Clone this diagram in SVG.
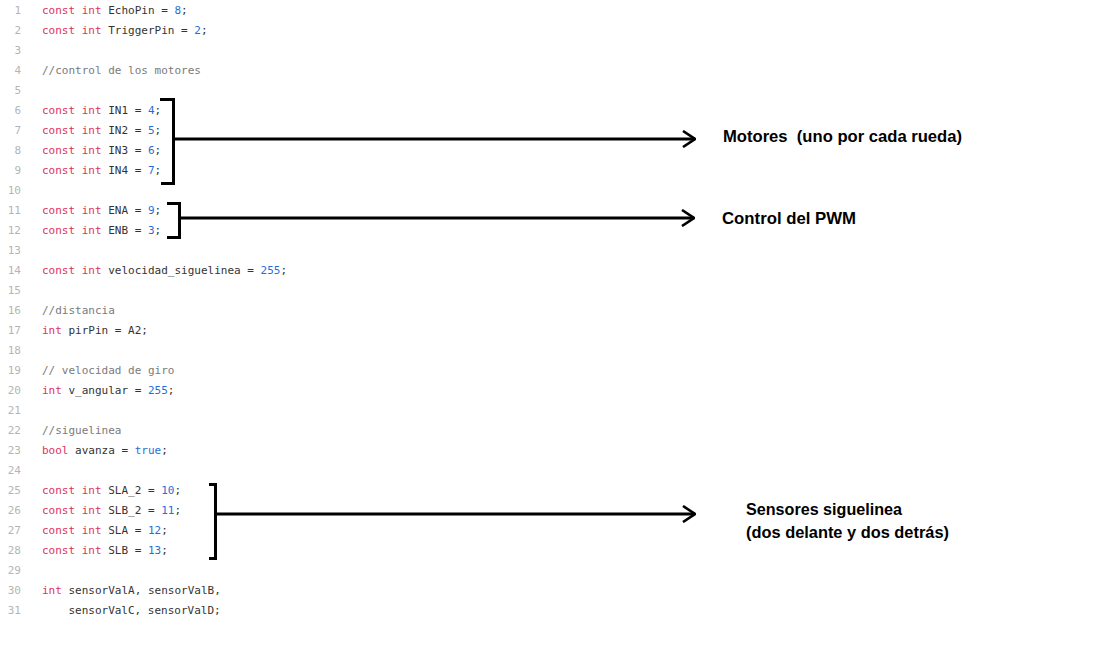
<svg xmlns="http://www.w3.org/2000/svg" width="1096" height="652" viewBox="0 0 1096 652">
<style>
.ln{font-family:"DejaVu Sans Mono","Liberation Mono",monospace;font-size:11px;fill:#b5b5b5;text-anchor:end}
.cd{font-family:"DejaVu Sans Mono","Liberation Mono",monospace;font-size:11px;fill:#333;white-space:pre}
.k{fill:#e0325c}
.n{fill:#1f6fd6}
.c{fill:#7a7a7a}
.lbl{font-family:"Liberation Sans",Arial,sans-serif;font-weight:bold;font-size:17px;fill:#000;white-space:pre}
.br{fill:none;stroke:#000;stroke-width:3}
.ar{fill:none;stroke:#000;stroke-width:3}
</style>
<defs>
<marker id="head" viewBox="0 0 14 18" refX="13" refY="9" markerWidth="14" markerHeight="18" markerUnits="userSpaceOnUse" orient="auto">
<path d="M1,1 L13,9 L1,17" fill="none" stroke="#000" stroke-width="2.6"/>
</marker>
</defs>
<rect width="1096" height="652" fill="#fff"/>
<g id="code">
<g id="linenumbers">
<text class="ln" x="21" y="14">1</text>
<text class="ln" x="21" y="34">2</text>
<text class="ln" x="21" y="54">3</text>
<text class="ln" x="21" y="74">4</text>
<text class="ln" x="21" y="94">5</text>
<text class="ln" x="21" y="114">6</text>
<text class="ln" x="21" y="134">7</text>
<text class="ln" x="21" y="154">8</text>
<text class="ln" x="21" y="174">9</text>
<text class="ln" x="21" y="194">10</text>
<text class="ln" x="21" y="214">11</text>
<text class="ln" x="21" y="234">12</text>
<text class="ln" x="21" y="254">13</text>
<text class="ln" x="21" y="274">14</text>
<text class="ln" x="21" y="294">15</text>
<text class="ln" x="21" y="314">16</text>
<text class="ln" x="21" y="334">17</text>
<text class="ln" x="21" y="354">18</text>
<text class="ln" x="21" y="374">19</text>
<text class="ln" x="21" y="394">20</text>
<text class="ln" x="21" y="414">21</text>
<text class="ln" x="21" y="434">22</text>
<text class="ln" x="21" y="454">23</text>
<text class="ln" x="21" y="474">24</text>
<text class="ln" x="21" y="494">25</text>
<text class="ln" x="21" y="514">26</text>
<text class="ln" x="21" y="534">27</text>
<text class="ln" x="21" y="554">28</text>
<text class="ln" x="21" y="574">29</text>
<text class="ln" x="21" y="594">30</text>
<text class="ln" x="21" y="614">31</text>
</g>
<text class="cd" x="42" y="14"><tspan class="k">const int</tspan> EchoPin = <tspan class="n">8</tspan>;</text>
<text class="cd" x="42" y="34"><tspan class="k">const int</tspan> TriggerPin = <tspan class="n">2</tspan>;</text>
<text class="cd c" x="42" y="74">//control de los motores</text>
<text class="cd" x="42" y="114"><tspan class="k">const int</tspan> IN1 = <tspan class="n">4</tspan>;</text>
<text class="cd" x="42" y="134"><tspan class="k">const int</tspan> IN2 = <tspan class="n">5</tspan>;</text>
<text class="cd" x="42" y="154"><tspan class="k">const int</tspan> IN3 = <tspan class="n">6</tspan>;</text>
<text class="cd" x="42" y="174"><tspan class="k">const int</tspan> IN4 = <tspan class="n">7</tspan>;</text>
<text class="cd" x="42" y="214"><tspan class="k">const int</tspan> ENA = <tspan class="n">9</tspan>;</text>
<text class="cd" x="42" y="234"><tspan class="k">const int</tspan> ENB = <tspan class="n">3</tspan>;</text>
<text class="cd" x="42" y="274"><tspan class="k">const int</tspan> velocidad_siguelinea = <tspan class="n">255</tspan>;</text>
<text class="cd c" x="42" y="314">//distancia</text>
<text class="cd" x="42" y="334"><tspan class="k">int</tspan> pirPin = A2;</text>
<text class="cd c" x="42" y="374">// velocidad de giro</text>
<text class="cd" x="42" y="394"><tspan class="k">int</tspan> v_angular = <tspan class="n">255</tspan>;</text>
<text class="cd c" x="42" y="434">//siguelinea</text>
<text class="cd" x="42" y="454"><tspan class="k">bool</tspan> avanza = <tspan class="n">true</tspan>;</text>
<text class="cd" x="42" y="494"><tspan class="k">const int</tspan> SLA_2 = <tspan class="n">10</tspan>;</text>
<text class="cd" x="42" y="514"><tspan class="k">const int</tspan> SLB_2 = <tspan class="n">11</tspan>;</text>
<text class="cd" x="42" y="534"><tspan class="k">const int</tspan> SLA = <tspan class="n">12</tspan>;</text>
<text class="cd" x="42" y="554"><tspan class="k">const int</tspan> SLB = <tspan class="n">13</tspan>;</text>
<text class="cd" x="42" y="594"><tspan class="k">int</tspan> sensorValA, sensorValB,</text>
<text class="cd" x="68.4" y="614">sensorValC, sensorValD;</text>
</g>
<g id="brackets">
<path id="bracket-motores" class="br" d="M160,99.5 H173.5 V183.5 H161"/>
<path id="bracket-pwm" class="br" d="M167,203.5 H179.5 V237.5 H167"/>
<path id="bracket-sensores" class="br" d="M209,484.5 H215.5 V558.5 H209"/>
</g>
<g id="connectors">
<line class="ar" x1="175" y1="139" x2="695" y2="139" marker-end="url(#head)"/>
<line class="ar" x1="181" y1="218" x2="694" y2="218" marker-end="url(#head)"/>
<line class="ar" x1="217" y1="514" x2="695" y2="514" marker-end="url(#head)"/>
</g>
<g id="label-motores">
<text class="lbl" x="723" y="142" textLength="239" lengthAdjust="spacingAndGlyphs">Motores  (uno por cada rueda)</text>
</g>
<g id="label-pwm">
<text class="lbl" x="722" y="224" textLength="134" lengthAdjust="spacingAndGlyphs">Control del PWM</text>
</g>
<g id="label-sensores">
<text class="lbl" x="746" y="515" textLength="156" lengthAdjust="spacingAndGlyphs">Sensores siguelinea</text>
<text class="lbl" x="746" y="538" textLength="203" lengthAdjust="spacingAndGlyphs">(dos delante y dos detrás)</text>
</g>
</svg>
